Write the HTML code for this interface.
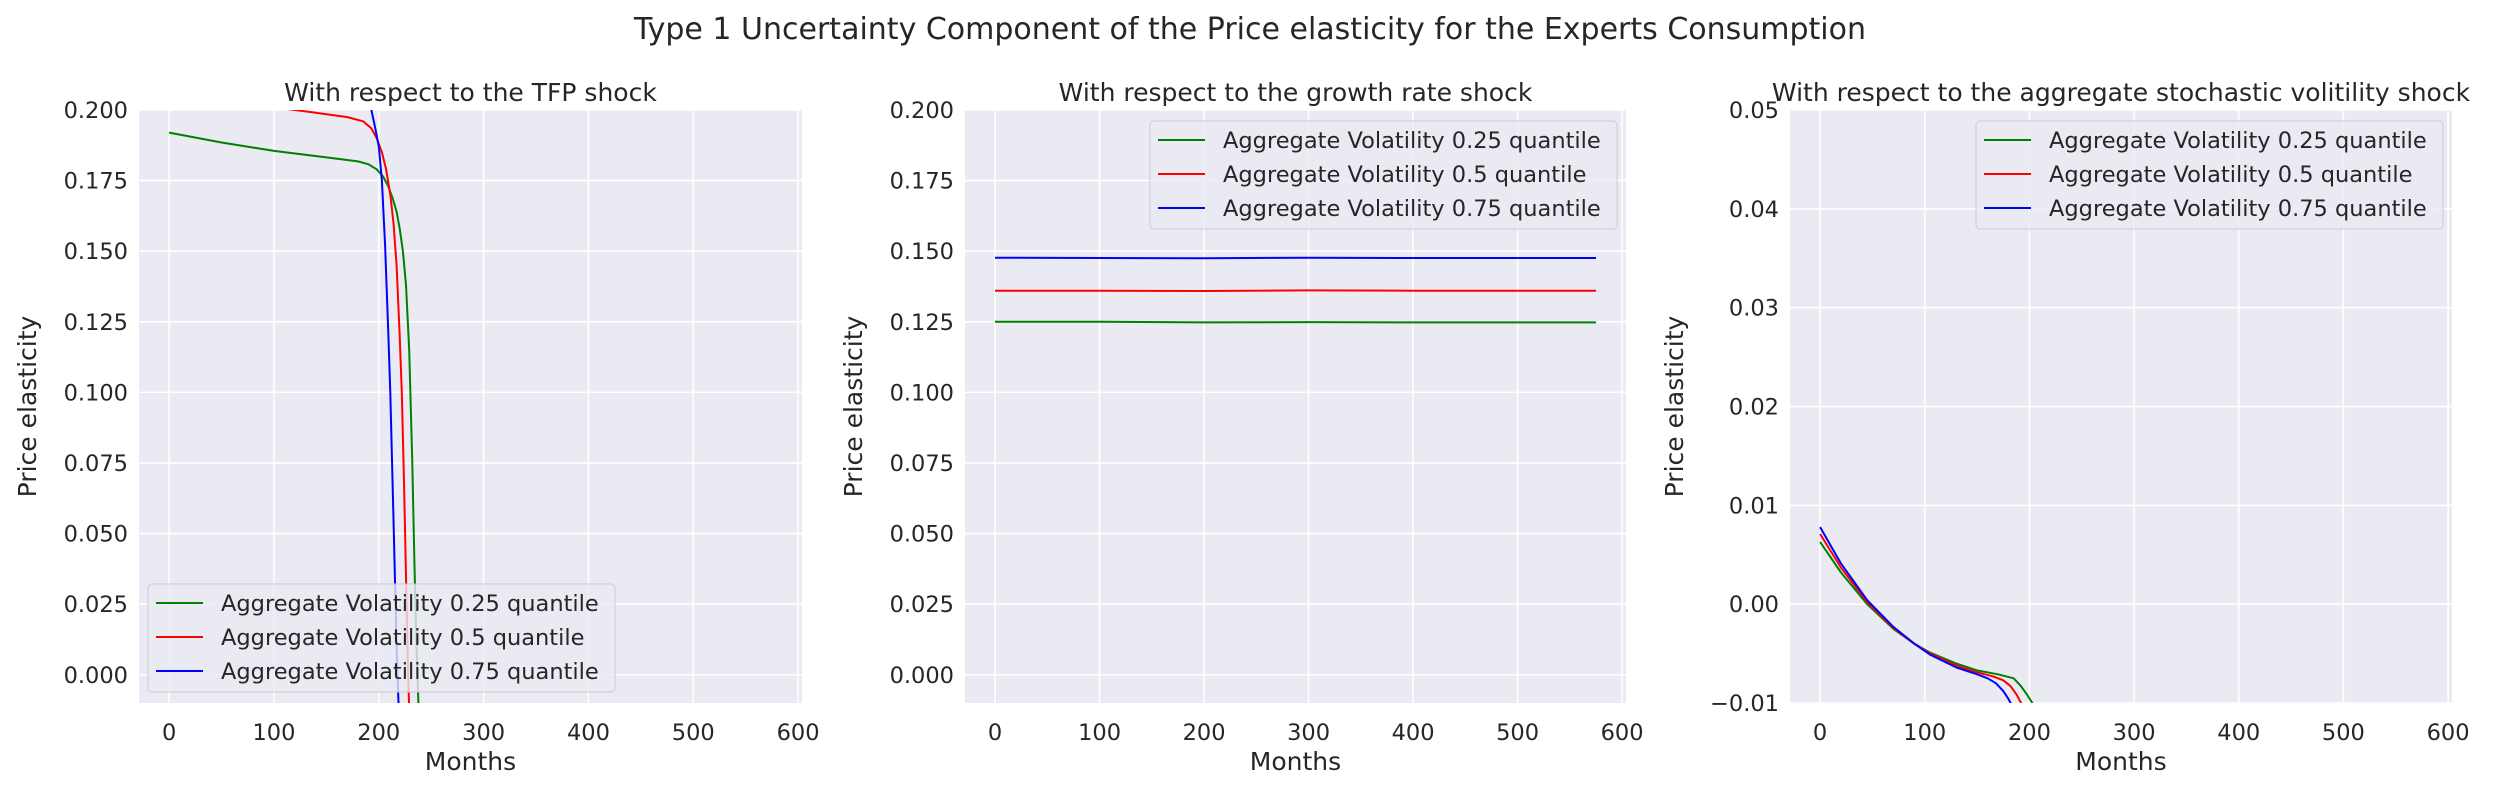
<!DOCTYPE html>
<html><head><meta charset="utf-8">
<style>
html,body{margin:0;padding:0;background:#fff;}
svg{display:block;font-family:"DejaVu Sans","Liberation Sans",sans-serif;}
</style></head>
<body>
<svg id="fig" width="2500" height="800" viewBox="0 0 2500 800">
<text x="1250" y="39" text-anchor="middle" font-size="30" fill="#262626">Type 1 Uncertainty Component of the Price elasticity for the Experts Consumption</text>
</svg>
<script>
// Panel 1 (TFP shock)
const tfpGreenX = [0, 50, 100, 150, 180, 190, 198, 204, 209, 213, 217, 220, 223, 226, 229, 232, 234, 236, 238];
const tfpGreenY = [0.192, 0.1885, 0.1855, 0.1832, 0.1818, 0.1808, 0.1790, 0.1765, 0.173, 0.169, 0.164, 0.158, 0.150, 0.138, 0.115, 0.075, 0.040, 0.010, -0.012];
const tfpRedX = [90, 110, 140, 170, 185, 193, 198, 203, 207, 211, 214, 217, 220, 222, 224, 226, 228, 229];
const tfpRedY = [0.2025, 0.2005, 0.1990, 0.1975, 0.1960, 0.1935, 0.1900, 0.1850, 0.1790, 0.170, 0.160, 0.145, 0.120, 0.100, 0.070, 0.035, 0.000, -0.012];
const tfpBlueX = [190, 193, 197, 200, 203, 206, 209, 211, 214, 217, 219];
const tfpBlueY = [0.210, 0.200, 0.193, 0.187, 0.175, 0.152, 0.122, 0.100, 0.055, 0.010, -0.012];
// Panel 2 (growth rate shock)
const growthX = [0, 100, 200, 300, 400, 500, 575];
const growthGreenY = [0.125, 0.125, 0.1248, 0.1249, 0.1248, 0.1248, 0.1248];
const growthRedY = [0.136, 0.136, 0.1359, 0.1361, 0.136, 0.136, 0.136];
const growthBlueY = [0.1477, 0.1476, 0.1475, 0.1477, 0.1476, 0.1476, 0.1476];
// Panel 3 (stochastic volatility shock)
const volGreenX = [0, 20, 45, 70, 90, 105, 130, 150, 170, 185, 192, 198, 204];
const volGreenY = [0.0063, 0.0032, 0.0000, -0.0025, -0.0040, -0.0049, -0.0060, -0.0067, -0.0071, -0.0075, -0.0083, -0.0092, -0.0102];
const volRedX = [0, 20, 45, 70, 90, 105, 130, 150, 165, 175, 182, 188, 193];
const volRedY = [0.0071, 0.0037, 0.0002, -0.0024, -0.0040, -0.0050, -0.0062, -0.0069, -0.0073, -0.0077, -0.0083, -0.0092, -0.0102];
const volBlueX = [0, 20, 45, 70, 90, 105, 130, 150, 160, 168, 175, 180, 183];
const volBlueY = [0.0078, 0.0041, 0.0004, -0.0023, -0.0040, -0.0051, -0.0064, -0.0071, -0.0075, -0.0080, -0.0088, -0.0096, -0.0102];
const xTicks = [0, 100, 200, 300, 400, 500, 600];
const yTicksA = [0, 0.025, 0.05, 0.075, 0.1, 0.125, 0.15, 0.175, 0.2];
const yTicksB = [-0.01, 0, 0.01, 0.02, 0.03, 0.04, 0.05];
const legendLabels = ["Aggregate Volatility 0.25 quantile", "Aggregate Volatility 0.5 quantile", "Aggregate Volatility 0.75 quantile"];
const colors = ["#008000", "#ff0000", "#0000ff"];

const NS = "http://www.w3.org/2000/svg";
const svg = document.getElementById('fig');
function mk(tag, attrs, parent) {
  const e = document.createElementNS(NS, tag);
  for (const k in attrs) e.setAttribute(k, attrs[k]);
  (parent || svg).appendChild(e);
  return e;
}
function panel(idx, x0, x1, title, yTicks, yMin, yMax, dec, series, legendPos, ylabelX) {
  const y0 = 110, y1 = 703;
  const xMin = -28.75, xMax = 603.75;
  const sx = v => x0 + (v - xMin) / (xMax - xMin) * (x1 - x0);
  const sy = v => y1 - (v - yMin) / (yMax - yMin) * (y1 - y0);
  const g = mk('g', {});
  
  
  const bg = mk('rect', {x: x0, y: y0, width: x1 - x0, height: y1 - y0, fill: '#eaeaf2'}, g);
  
  
  xTicks.forEach(t => {
    const X = sx(t);
    mk('line', {x1: X, x2: X, y1: y0, y2: y1, stroke: '#fff', 'stroke-width': 1.6}, g);
    const tx = mk('text', {x: X, y: 740, 'text-anchor': 'middle', 'font-size': 22.5, fill: '#262626'}, g);
    tx.textContent = t;
    
    
  });
  yTicks.forEach(t => {
    const Y = sy(t);
    mk('line', {x1: x0, x2: x1, y1: Y, y2: Y, stroke: '#fff', 'stroke-width': 1.6}, g);
    const ty = mk('text', {x: x0 - 11, y: Y + 8, 'text-anchor': 'end', 'font-size': 22.5, fill: '#262626'}, g);
    ty.textContent = t.toFixed(dec).replace('-', '\u2212');
    
    
  });
  const cid = 'clip' + idx;
  const cp = mk('clipPath', {id: cid}, g);
  mk('rect', {x: x0, y: y0, width: x1 - x0, height: y1 - y0}, cp);
  series.forEach((s, i) => {
    const d = s[0].map((xv, j) => (j ? 'L' : 'M') + sx(xv).toFixed(1) + ',' + sy(s[1][j]).toFixed(1)).join(' ');
    const p = mk('path', {d: d, fill: 'none', stroke: colors[i], 'stroke-width': 2, 'clip-path': 'url(#' + cid + ')', 'stroke-linejoin': 'round'}, g);
    
    
  });
  const tt = mk('text', {x: (x0 + x1) / 2, y: 101, 'text-anchor': 'middle', 'font-size': 25, fill: '#262626'}, g);
  tt.textContent = title;
  
  
  const xl = mk('text', {x: (x0 + x1) / 2, y: 770, 'text-anchor': 'middle', 'font-size': 25, fill: '#262626'}, g);
  xl.textContent = 'Months';
  
  
  const yl = mk('text', {x: ylabelX, y: (y0 + y1) / 2, 'text-anchor': 'middle', 'font-size': 25, fill: '#262626', transform: 'rotate(-90 ' + ylabelX + ' ' + (y0 + y1) / 2 + ')'}, g);
  yl.textContent = 'Price elasticity';
  
  
  const lg = mk('g', {}, g);
  
  
  const lw = 467, lh = 108;
  const lx = legendPos === 'lr' ? x0 + 9 : x1 - 9 - lw;
  const ly = legendPos === 'lr' ? 584 : 121;
  mk('rect', {x: lx, y: ly, width: lw, height: lh, rx: 4, fill: '#eaeaf2', 'fill-opacity': 0.8, stroke: '#cccccc', 'stroke-width': 1}, lg);
  legendLabels.forEach((lab, i) => {
    const ry = ly + 19 + i * 34;
    const e = mk('g', {}, lg);
    
    
    mk('line', {x1: lx + 8, x2: lx + 55, y1: ry, y2: ry, stroke: colors[i], 'stroke-width': 2}, e);
    const t = mk('text', {x: lx + 73, y: ry + 8, 'font-size': 22.5, fill: '#262626'}, e);
    t.textContent = lab;
  });
}
panel(1, 139, 802, 'With respect to the TFP shock', yTicksA, -0.01, 0.2, 3,
  [[tfpGreenX, tfpGreenY], [tfpRedX, tfpRedY], [tfpBlueX, tfpBlueY]], 'lr', 36);
panel(2, 965, 1626, 'With respect to the growth rate shock', yTicksA, -0.01, 0.2, 3,
  [[growthX, growthGreenY], [growthX, growthRedY], [growthX, growthBlueY]], 'ur', 862);
panel(3, 1790, 2452, 'With respect to the aggregate stochastic volitility shock', yTicksB, -0.01, 0.05, 2,
  [[volGreenX, volGreenY], [volRedX, volRedY], [volBlueX, volBlueY]], 'ur', 1683);
</script>
</body></html>
